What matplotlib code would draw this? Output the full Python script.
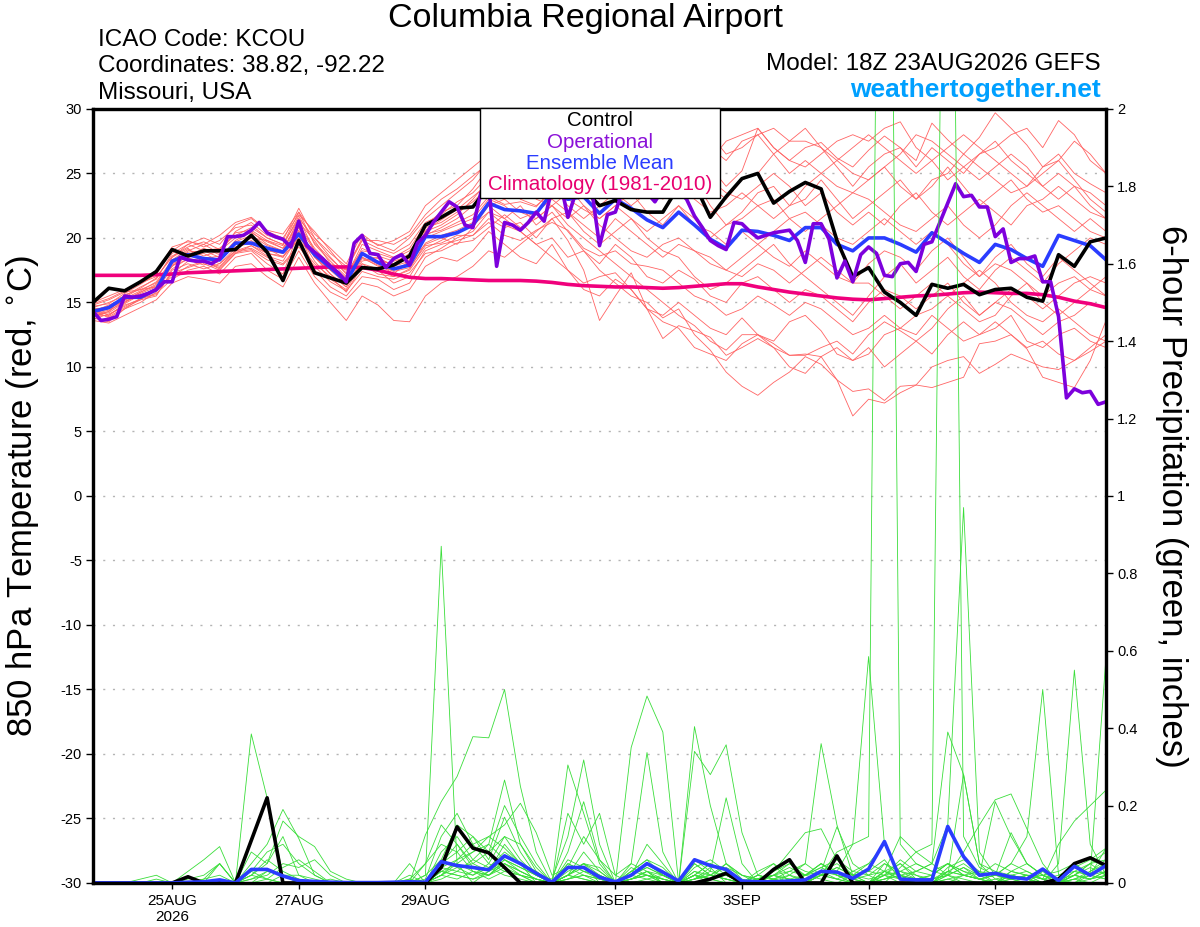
import matplotlib
matplotlib.use("Agg")
import matplotlib.pyplot as plt
from matplotlib.patches import Rectangle
import pandas as pd

# time axes: 6-hourly ensemble, 3-hourly operational run
times = pd.date_range("2026-08-23 18:00", periods=65, freq="6h")
times_op = pd.date_range("2026-08-23 18:00", periods=129, freq="3h")

tick_dates = pd.to_datetime(["2026-08-25", "2026-08-27", "2026-08-29", "2026-09-01",
                             "2026-09-03", "2026-09-05", "2026-09-07"])
tick_labels = ["25AUG\n2026", "27AUG", "29AUG", "1SEP", "3SEP", "5SEP", "7SEP"]

# 850 hPa temperature, deg C
control_t = [15.0,
    16.1, 15.9, 16.6, 17.4,  19.1, 18.6, 19.0, 19.0,  19.1, 20.2, 18.9, 16.7,  19.8, 17.3, 16.9, 16.5,
    17.7, 17.6, 17.9, 18.6,  21.0, 21.6, 22.3, 22.4,  24.0, 24.5, 24.0, 23.8,  24.5, 23.5, 23.8, 22.5,
    22.9, 22.2, 22.0, 22.0,  24.0, 24.2, 21.6, 23.2,  24.6, 25.0, 22.7, 23.6,  24.3, 23.8, 19.8, 17.0,
    17.7, 15.8, 15.0, 14.0,  16.4, 16.1, 16.4, 15.6,  16.0, 16.1, 15.4, 15.1,  18.7, 17.8, 19.7, 20.0]

mean_t = [14.3,
    14.6, 15.4, 15.4, 16.0,  18.2, 18.7, 18.4, 18.3,  19.6, 19.6, 19.2, 18.9,  20.3, 18.7, 17.7, 16.6,
    18.8, 18.1, 17.6, 17.9,  20.1, 20.1, 20.4, 21.0,  22.7, 22.2, 22.1, 21.9,  23.5, 23.0, 23.2, 21.9,
    23.0, 22.3, 21.4, 20.8,  22.0, 21.0, 19.9, 19.2,  20.6, 20.5, 20.2, 19.8,  20.8, 20.8, 19.5, 19.0,
    20.0, 20.0, 19.5, 18.9,  20.4, 19.6, 18.8, 18.1,  19.5, 19.1, 18.4, 17.8,  20.2, 19.8, 19.4, 18.3]

climatology = [17.1,
    17.1, 17.1, 17.1, 17.15,  17.2, 17.3, 17.35, 17.4,  17.45, 17.5, 17.55, 17.6,  17.65, 17.7, 17.75, 17.75,
    17.7, 17.5, 17.2, 16.95,  16.85, 16.85, 16.8, 16.75,  16.7, 16.7, 16.7, 16.65,  16.55, 16.4, 16.3, 16.25,
    16.2, 16.2, 16.15, 16.1,  16.15, 16.25, 16.35, 16.45,  16.45, 16.2, 16.0, 15.8,  15.65, 15.5, 15.35, 15.25,
    15.2, 15.3, 15.4, 15.5,  15.55, 15.65, 15.75, 15.8,  15.75, 15.7, 15.7, 15.6,  15.4, 15.1, 14.9, 14.6]

operational_t = [
    14.3, 13.6, 13.7, 13.9, 15.5, 15.4, 15.5, 15.7, 16.0, 16.6, 16.6, 18.5, 18.3, 18.2, 18.2, 18.0,
    18.4, 20.1, 20.1, 20.2, 20.6, 21.2, 20.4, 20.1, 19.9, 19.3, 21.3, 19.4, 18.9, 18.4, 17.8, 17.3,
    16.6, 19.6, 20.2, 18.8, 18.7, 17.7, 18.4, 18.7, 17.9, 19.6, 20.2, 21.2, 22.0, 22.8, 22.4, 21.0,
    20.8, 23.5, 24.0, 17.8, 21.2, 21.0, 20.6, 21.2, 22.0, 21.3, 23.8, 24.5, 21.6, 23.5, 24.2, 23.8,
    19.4, 21.8, 22.0, 23.8, 24.5, 24.0, 23.5, 22.8, 23.8, 24.0, 23.6, 23.0, 21.7, 20.8, 19.8, 19.4,
    19.1, 21.2, 21.1, 20.5, 20.0, 20.2, 20.4, 20.5, 20.6, 19.8, 18.1, 21.1, 21.1, 19.9, 16.9, 18.2,
    16.6, 18.7, 19.3, 18.8, 17.1, 17.0, 18.0, 18.1, 17.4, 19.5, 19.7, 21.2, 22.7, 24.2, 23.2, 23.3,
    22.4, 22.4, 20.1, 20.7, 18.1, 18.4, 18.4, 18.6, 16.6, 16.6, 13.9, 7.6, 8.3, 8.0, 8.1, 7.1,
    7.3]

members_t = [
    [14.0, 14.2, 15.0, 15.8, 16.3, 17.8, 18.9, 19.0, 18.5, 19.8, 20.5, 19.5, 19.0, 21.5, 19.0, 17.5, 16.8,
     18.5, 18.0, 17.2, 18.3, 20.5, 21.0, 21.8, 23.0, 24.5, 25.2, 24.0, 23.5, 24.8, 25.5, 24.2, 23.0,
     24.5, 25.8, 26.5, 25.0, 26.0, 27.2, 25.5, 24.0, 25.2, 28.5, 27.0, 26.0, 27.0, 27.4, 26.2, 25.5,
     26.8, 27.9, 27.0, 26.0, 28.9, 27.6, 26.5, 27.8, 29.7, 28.5, 27.2, 25.5, 26.5, 25.0, 24.2, 23.5],
    [14.5, 14.0, 14.8, 15.2, 15.5, 17.5, 18.0, 17.6, 18.0, 19.0, 19.2, 18.5, 18.0, 19.5, 18.0, 17.0, 15.8,
     17.8, 17.5, 16.5, 17.0, 19.0, 19.5, 19.8, 20.2, 21.5, 20.8, 21.2, 20.0, 21.5, 19.8, 17.5, 13.6,
     15.5, 17.3, 14.5, 12.2, 13.2, 12.8, 12.3, 10.9, 11.5, 12.2, 11.5, 10.9, 11.0, 10.8, 9.0, 6.2,
     7.5, 7.2, 8.0, 8.6, 8.4, 8.8, 9.2, 11.8, 12.0, 12.5, 11.4, 9.2, 8.8, 8.4, 10.5, 13.6],
    [13.8, 13.5, 14.5, 15.0, 15.8, 18.5, 19.2, 18.0, 17.5, 18.8, 19.0, 18.0, 17.2, 20.5, 17.5, 16.2, 15.5,
     17.0, 16.8, 16.0, 16.5, 18.5, 19.2, 20.0, 20.5, 22.0, 21.0, 20.5, 19.5, 20.0, 18.5, 19.0, 17.5,
     16.5, 15.5, 15.0, 13.8, 14.5, 12.5, 11.3, 9.6, 8.5, 7.8, 8.8, 9.6, 10.8, 10.2, 9.0, 8.1,
     8.3, 7.4, 8.5, 8.6, 10.0, 10.5, 10.8, 9.5, 10.2, 11.0, 10.5, 10.0, 9.8, 10.5, 11.2, 12.0],
    [14.6, 15.0, 15.5, 16.2, 16.8, 18.8, 19.5, 19.0, 19.2, 20.2, 20.8, 20.0, 19.5, 22.0, 19.5, 18.2, 17.0,
     19.5, 19.0, 18.5, 19.2, 21.0, 22.0, 22.5, 23.8, 25.5, 26.0, 25.0, 24.5, 26.5, 27.0, 25.5, 24.0,
     25.0, 26.5, 27.5, 26.0, 27.0, 25.5, 24.0, 23.0, 24.5, 25.0, 26.5, 27.5, 28.5, 27.0, 25.5, 24.0,
     25.5, 26.5, 27.0, 25.5, 27.0, 26.0, 25.0, 26.5, 27.5, 26.0, 25.0, 24.0, 23.0, 24.0, 22.5, 21.5],
    [14.2, 14.5, 15.2, 15.5, 15.9, 17.2, 18.2, 18.5, 18.0, 19.2, 19.8, 19.0, 18.8, 20.8, 18.5, 17.2, 16.2,
     18.2, 18.5, 17.8, 18.2, 19.5, 20.0, 19.5, 20.8, 22.5, 21.5, 22.5, 21.0, 22.0, 20.5, 19.0, 18.0,
     19.5, 18.5, 17.0, 16.5, 17.5, 16.8, 15.5, 15.0, 16.5, 17.0, 16.0, 15.0, 16.0, 15.5, 14.5, 13.5,
     15.0, 16.0, 15.5, 14.5, 15.5, 16.5, 15.0, 14.0, 15.0, 14.5, 13.5, 12.5, 13.5, 14.0, 15.0, 14.5],
    [13.9, 14.3, 15.6, 16.0, 16.5, 18.0, 19.0, 19.5, 18.8, 20.5, 21.2, 20.2, 19.8, 22.3, 20.0, 18.5, 17.2,
     18.8, 18.2, 18.0, 18.8, 20.2, 20.8, 21.5, 22.5, 23.5, 24.5, 23.0, 22.5, 23.5, 24.0, 22.5, 21.5,
     22.5, 23.5, 22.0, 21.0, 22.5, 21.5, 20.0, 21.0, 22.0, 23.5, 24.0, 22.5, 23.0, 24.5, 23.0, 21.5,
     22.5, 23.5, 24.5, 23.0, 24.0, 25.5, 24.0, 22.5, 23.5, 24.5, 23.0, 22.0, 22.5, 21.5, 20.5, 20.0],
    [14.4, 13.8, 14.5, 15.3, 15.7, 16.8, 17.5, 17.8, 17.2, 18.5, 18.8, 17.5, 16.8, 19.0, 17.0, 15.8, 15.2,
     16.5, 16.2, 15.5, 16.0, 17.8, 18.5, 18.2, 19.0, 20.5, 19.5, 18.5, 18.0, 19.5, 17.5, 16.0, 15.5,
     16.8, 16.0, 14.5, 14.0, 15.0, 14.0, 13.0, 12.5, 13.8, 12.5, 12.0, 13.5, 14.0, 12.8, 11.0, 10.5,
     11.5, 10.0, 11.0, 12.0, 11.0, 12.5, 13.5, 12.5, 13.0, 14.0, 12.0, 11.5, 12.5, 13.0, 12.0, 11.5],
    [15.0, 15.5, 16.0, 16.5, 17.0, 18.5, 19.5, 20.0, 19.5, 21.0, 21.5, 20.5, 20.0, 21.8, 20.5, 19.0, 17.5,
     20.0, 19.5, 19.0, 20.0, 21.5, 22.5, 23.5, 24.5, 26.0, 25.5, 26.5, 25.0, 25.5, 26.0, 24.5, 25.5,
     26.5, 27.0, 28.0, 27.0, 26.5, 25.0, 26.0, 27.5, 28.0, 28.5, 27.0, 26.0, 25.5, 26.5, 27.5, 28.0,
     27.5, 28.5, 29.0, 27.0, 26.0, 24.5, 25.5, 26.5, 27.0, 28.0, 28.5, 27.0, 29.1, 28.0, 26.0, 25.0],
    [14.1, 14.4, 15.0, 15.7, 16.2, 18.0, 18.5, 18.8, 18.2, 19.5, 20.0, 19.2, 18.5, 20.0, 18.8, 17.8, 16.5,
     18.5, 17.8, 17.5, 18.0, 20.0, 20.5, 21.0, 21.5, 23.0, 22.5, 21.5, 22.0, 23.0, 22.0, 21.0, 20.0,
     21.5, 20.5, 19.5, 18.5, 19.5, 19.0, 18.0, 17.5, 18.5, 19.5, 18.5, 17.8, 19.0, 18.0, 17.0, 16.5,
     18.0, 19.0, 18.5, 17.5, 19.0, 20.0, 18.5, 17.0, 18.0, 17.5, 16.5, 15.5, 16.5, 17.0, 16.0, 15.5],
    [14.3, 14.8, 15.3, 15.9, 16.6, 18.3, 19.1, 18.6, 19.0, 20.0, 20.4, 19.7, 19.2, 21.0, 19.2, 17.9, 16.9,
     19.2, 18.6, 18.2, 18.6, 20.8, 21.2, 22.0, 22.8, 24.0, 23.5, 24.5, 23.0, 22.5, 21.0, 20.0, 19.0,
     18.0, 17.0, 16.0, 15.0, 14.0, 13.2, 12.0, 11.3, 12.5, 12.5, 11.8, 10.9, 10.9, 11.5, 12.0, 11.0,
     12.5, 13.5, 12.8, 12.0, 13.0, 14.5, 15.5, 14.0, 15.0, 16.0, 15.5, 14.5, 15.5, 16.5, 17.0, 16.5],
    [14.8, 15.2, 15.8, 16.0, 16.2, 17.8, 18.6, 19.2, 18.7, 19.5, 20.0, 19.8, 19.2, 21.2, 19.8, 18.0, 17.5,
     19.8, 19.2, 18.8, 19.5, 21.2, 21.8, 22.8, 23.5, 24.8, 24.2, 23.5, 24.0, 25.0, 24.0, 25.5, 26.0,
     25.5, 24.5, 23.5, 24.5, 25.5, 26.0, 24.5, 23.5, 23.0, 24.0, 25.0, 24.0, 22.5, 23.5, 22.0, 21.0,
     22.0, 21.0, 22.5, 23.5, 22.0, 21.0, 22.0, 23.0, 22.0, 21.0, 22.5, 23.0, 24.0, 23.0, 22.0, 21.5],
    [13.6, 13.4, 14.0, 14.6, 15.2, 16.5, 17.0, 16.8, 16.5, 17.8, 18.0, 17.0, 16.2, 18.5, 16.5, 15.0, 13.6,
     15.5, 14.8, 13.6, 13.5, 15.5, 16.5, 17.0, 17.8, 19.0, 18.5, 19.5, 20.5, 21.5, 22.0, 20.5, 19.5,
     20.5, 21.5, 20.0, 19.0, 18.5, 17.0, 16.0, 16.5, 17.5, 18.5, 19.5, 18.0, 17.0, 16.0, 15.0, 14.0,
     15.5, 17.0, 18.0, 16.5, 17.5, 18.5, 17.0, 16.0, 17.5, 18.5, 17.5, 16.5, 18.0, 19.0, 20.0, 19.5],
    [14.0, 14.0, 14.9, 15.6, 16.0, 17.6, 18.4, 18.2, 17.8, 19.0, 19.4, 18.6, 18.2, 20.2, 18.2, 16.8, 16.0,
     18.0, 17.6, 17.0, 17.6, 19.6, 20.2, 20.6, 21.2, 22.5, 23.0, 22.0, 21.5, 22.5, 23.5, 24.5, 23.5,
     24.0, 25.0, 24.0, 23.0, 24.0, 23.0, 22.0, 22.5, 23.5, 22.5, 21.5, 22.5, 24.0, 25.0, 26.0, 25.0,
     24.5, 25.5, 26.5, 28.0, 27.5, 26.5, 25.5, 24.5, 25.5, 26.5, 25.5, 24.0, 25.0, 24.0, 23.5, 22.5],
    [14.5, 14.6, 15.1, 15.5, 16.0, 17.0, 17.8, 18.2, 17.6, 18.8, 19.4, 18.8, 18.5, 20.6, 18.5, 17.5, 16.4,
     18.0, 17.2, 17.0, 17.5, 19.2, 19.8, 20.5, 21.0, 22.0, 21.5, 20.5, 19.5, 18.5, 17.5, 16.5, 17.0,
     17.3, 16.0, 14.5, 13.5, 13.0, 11.5, 11.0, 10.5, 11.8, 12.5, 11.5, 10.0, 9.5, 10.8, 11.5, 10.5,
     11.0, 12.5, 13.0, 14.0, 14.5, 15.5, 14.5, 13.5, 14.0, 15.5, 16.5, 15.0, 14.0, 15.0, 16.0, 17.0],
    [14.7, 14.9, 15.7, 16.4, 17.2, 19.0, 19.8, 19.3, 19.8, 20.8, 21.0, 20.0, 19.5, 21.5, 20.0, 18.8, 17.8,
     19.8, 19.8, 19.5, 20.2, 21.8, 23.0, 23.8, 24.8, 25.8, 24.8, 25.5, 26.5, 26.0, 24.5, 23.5, 24.5,
     25.5, 26.0, 25.0, 24.0, 25.0, 26.5, 27.0, 26.0, 27.5, 28.0, 26.5, 25.0, 26.0, 25.0, 24.0, 23.5,
     24.5, 25.5, 24.0, 23.0, 24.5, 25.0, 26.5, 25.5, 24.5, 23.5, 24.0, 25.5, 26.0, 24.5, 23.0, 22.0],
    [14.2, 13.9, 14.6, 15.2, 16.1, 17.9, 18.3, 17.9, 18.4, 19.3, 19.6, 18.8, 18.6, 19.8, 18.6, 17.2, 16.2,
     18.4, 17.9, 17.4, 17.7, 19.4, 19.6, 20.2, 20.2, 21.2, 20.2, 19.8, 20.6, 21.2, 20.6, 19.2, 18.6,
     19.0, 18.0, 17.8, 17.5, 16.5, 15.5, 15.0, 14.0, 14.5, 15.5, 14.8, 14.0, 15.0, 14.5, 13.5, 12.5,
     13.0, 14.0, 13.0, 12.5, 14.0, 13.0, 12.0, 12.5, 13.5, 12.5, 11.5, 12.0, 11.0, 10.5, 11.5, 12.5],
    [14.4, 14.7, 15.4, 16.1, 16.9, 18.6, 19.3, 19.7, 19.1, 20.4, 20.6, 19.8, 19.4, 21.7, 19.6, 18.4, 17.3,
     19.0, 18.8, 18.4, 19.0, 20.6, 21.4, 22.2, 23.2, 24.2, 23.0, 23.8, 24.8, 24.0, 22.5, 21.5, 22.5,
     23.5, 22.5, 23.5, 24.5, 23.5, 24.5, 22.5, 21.0, 21.5, 22.5, 23.0, 21.5, 20.5, 21.5, 22.5, 23.5,
     23.0, 22.0, 21.0, 20.5, 21.5, 22.5, 21.0, 20.0, 21.0, 22.5, 23.5, 22.5, 21.5, 20.5, 21.5, 20.5],
    [13.7, 14.1, 14.7, 15.3, 15.6, 17.3, 17.7, 18.1, 17.7, 18.9, 19.1, 18.3, 17.9, 19.3, 17.8, 16.6, 15.9,
     17.4, 17.0, 16.8, 17.3, 18.8, 19.0, 19.6, 19.8, 20.8, 21.8, 20.8, 21.5, 22.5, 21.5, 22.5, 21.0,
     20.0, 19.0, 18.5, 19.5, 20.0, 19.0, 18.5, 17.5, 17.0, 18.0, 17.5, 16.5, 17.5, 18.5, 17.5, 16.5,
     16.5, 15.5, 14.5, 15.5, 16.5, 15.5, 16.5, 17.5, 16.5, 15.0, 14.0, 13.5, 14.5, 13.5, 12.5, 12.0],
    [14.9, 15.3, 15.9, 16.6, 17.4, 19.3, 19.7, 19.5, 20.2, 21.2, 21.6, 20.6, 20.3, 22.0, 20.3, 19.2, 18.0,
     20.3, 19.4, 19.8, 20.5, 22.5, 23.5, 24.5, 25.5, 26.5, 27.0, 26.0, 25.5, 26.5, 25.5, 26.5, 27.5,
     27.0, 27.5, 26.0, 25.5, 26.5, 27.5, 28.0, 26.5, 27.0, 28.0, 28.5, 27.5, 27.5, 27.0, 26.0, 27.0,
     28.0, 27.0, 26.0, 25.0, 26.0, 27.0, 28.0, 27.0, 26.0, 25.0, 24.0, 25.0, 26.0, 27.5, 26.5, 25.0],
    [14.0, 14.3, 15.2, 15.8, 16.4, 18.2, 18.8, 18.4, 18.6, 19.7, 20.2, 19.4, 19.0, 20.9, 19.0, 17.6, 16.7,
     18.7, 18.4, 17.9, 18.4, 20.3, 20.6, 21.2, 21.8, 23.2, 22.6, 22.8, 22.4, 23.8, 23.0, 22.2, 21.5,
     22.5, 21.5, 20.5, 21.5, 22.5, 21.0, 20.5, 19.5, 20.5, 19.5, 20.5, 21.5, 22.0, 21.0, 20.0, 19.5,
     20.5, 21.5, 20.5, 19.5, 20.5, 19.5, 18.0, 17.0, 18.5, 19.5, 18.0, 17.0, 18.5, 17.5, 16.5, 15.5],
]

# 6-hour precipitation, inches
control_p = [0,
    0, 0, 0, 0,  0, 0.016, 0, 0,  0, 0.11, 0.22, 0,  0, 0, 0, 0,
    0, 0, 0, 0,  0, 0.04, 0.145, 0.09,  0.078, 0.04, 0, 0,  0, 0, 0, 0,
    0, 0, 0, 0,  0, 0, 0.01, 0.025,  0, 0, 0.035, 0.06,  0, 0, 0.07, 0,
    0, 0, 0, 0,  0, 0, 0, 0,  0, 0, 0, 0,  0.01, 0.05, 0.065, 0.045]

mean_p = [0,
    0, 0, 0, 0,  0, 0.002, 0.003, 0.008,  0, 0.035, 0.035, 0.018,  0.006, 0.004, 0.002, 0.001,
    0.001, 0.001, 0.002, 0.003,  0.002, 0.055, 0.045, 0.04,  0.034, 0.07, 0.05, 0.025,  0.002, 0.04, 0.04, 0.015,
    0.003, 0.02, 0.05, 0.028,  0.005, 0.06, 0.045, 0.035,  0.005, 0.003, 0.003, 0.005,  0.008, 0.03, 0.028, 0.012,
    0.036, 0.107, 0.01, 0.008,  0.008, 0.146, 0.068, 0.02,  0.025, 0.015, 0.01, 0.036,  0.006, 0.043, 0.02, 0.045]

members_p = [
    [0, 0, 0, 0, 0, 0, 0, 0, 0, 0, 0.385, 0.22, 0.02, 0, 0, 0, 0,
     0, 0, 0, 0, 0.02, 0.87, 0.05, 0.0, 0.03, 0.10, 0.05, 0, 0, 0.02, 0.05, 0,
     0, 0.01, 0.03, 0, 0, 0.02, 0, 0, 0, 0, 0, 0, 0, 0.03, 0.01, 0,
     0, 0.02, 0, 0, 0, 0.01, 0, 0, 0, 0, 0.02, 0, 0, 0.01, 0.03, 0.05],
    [0, 0, 0, 0, 0, 0, 0, 0, 0.05, 0, 0.05, 0.10, 0.19, 0.115, 0.02, 0, 0,
     0, 0, 0, 0, 0.124, 0.21, 0.275, 0.378, 0.375, 0.50, 0.25, 0.08, 0, 0.05, 0.03, 0.01,
     0, 0.02, 0.05, 0.02, 0, 0.01, 0.04, 0, 0, 0, 0.01, 0, 0, 0, 0, 0.02,
     0.05, 0.10, 0.02, 0, 0, 0.03, 0.05, 0.02, 0, 0.01, 0, 0, 0, 0, 0.02, 0.01],
    [0, 0, 0, 0, 0, 0, 0.03, 0.06, 0.094, 0, 0.02, 0.05, 0.16, 0.12, 0.094, 0.03, 0.01,
     0, 0, 0, 0, 0, 0.08, 0.12, 0.06, 0.10, 0.266, 0.10, 0.03, 0, 0.305, 0.18, 0.05,
     0, 0.01, 0.02, 0, 0, 0.05, 0.02, 0.01, 0, 0.02, 0.05, 0, 0, 0.03, 0.145, 0.05,
     0.02, 0, 0.04, 0.08, 0.05, 0.02, 0, 0, 0.01, 0, 0, 0, 0, 0.02, 0.05, 0.08],
    [0, 0, 0, 0.01, 0.02, 0, 0, 0.01, 0.05, 0, 0.08, 0.05, 0.12, 0.02, 0, 0, 0,
     0, 0, 0, 0.01, 0.05, 0.15, 0.10, 0.05, 0.08, 0.20, 0.12, 0.05, 0, 0.02, 0.08, 0.03,
     0, 0.02, 0.10, 0.05, 0, 0.03, 0.01, 0.02, 0, 0.01, 0, 0, 0.02, 0.05, 0.02, 0,
     0, 0.03, 0.01, 0, 0, 0, 0.02, 0.03, 0, 0.02, 0.01, 0, 0, 0.01, 0, 0.02],
    [0, 0, 0, 0, 0, 0, 0, 0, 0, 0, 0.02, 0.06, 0.03, 0.01, 0, 0, 0,
     0, 0, 0, 0, 0, 0.05, 0.08, 0.12, 0.06, 0.17, 0.08, 0.02, 0, 0.06, 0.04, 0.02,
     0, 0.05, 0.337, 0.08, 0, 0.02, 0.05, 0.02, 0, 0.01, 0.02, 0.04, 0.02, 0.01, 0, 0,
     0, 0.02, 0.05, 0.01, 0.02, 0.05, 0.03, 0.01, 0, 0.03, 0.05, 0.02, 0, 0, 0.03, 0.06],
    [0, 0, 0, 0, 0, 0, 0, 0, 0, 0, 0, 0.03, 0.02, 0, 0, 0, 0,
     0, 0, 0, 0.02, 0, 0.04, 0.06, 0.10, 0.12, 0.15, 0.206, 0.13, 0.02, 0.04, 0.02, 0,
     0, 0.03, 0.06, 0.04, 0, 0.06, 0.03, 0.22, 0.05, 0, 0, 0.02, 0, 0.02, 0.03, 0.01,
     0, 0.02, 0.03, 0.05, 0.03, 0.02, 0.08, 0.15, 0.215, 0.23, 0.14, 0.05, 0, 0.02, 0.01, 0.03],
    [0, 0, 0, 0, 0, 0, 0, 0.01, 0.02, 0, 0.03, 0.01, 0, 0, 0, 0.01, 0,
     0, 0, 0, 0, 0, 0.06, 0.04, 0.02, 0.04, 0.08, 0.05, 0.02, 0.01, 0.12, 0.318, 0.10,
     0, 0.04, 0.02, 0.01, 0, 0.02, 0.01, 0, 0, 0.02, 0.01, 0.03, 0.05, 0.02, 0.01, 0,
     0, 0.01, 0.03, 0.02, 0, 0.02, 0.04, 0.01, 0.02, 0.05, 0.12, 0.50, 0.02, 0.03, 0.05, 0.02],
    [0, 0, 0, 0, 0, 0, 0, 0, 0, 0, 0.01, 0.02, 0.05, 0.04, 0.06, 0.02, 0,
     0, 0, 0, 0, 0.01, 0.12, 0.18, 0.10, 0.05, 0.12, 0.06, 0.02, 0, 0.08, 0.21, 0.06,
     0, 0.01, 0.03, 0, 0, 0.01, 0.02, 0.05, 0.02, 0, 0, 0.01, 0.02, 0.04, 0.02, 0,
     0, 0.05, 0.02, 0, 0.01, 0.02, 0.01, 0, 0, 0.03, 0.02, 0, 0.05, 0.55, 0.10, 0.02],
    [0, 0, 0, 0, 0, 0, 0, 0, 0, 0, 0, 0, 0, 0, 0, 0, 0,
     0, 0, 0, 0.01, 0, 0.02, 0.05, 0.03, 0.02, 0.06, 0.03, 0.01, 0, 0.18, 0.10, 0.18,
     0.02, 0, 0.01, 0.02, 0, 0.01, 0.03, 0.02, 0, 0, 0.01, 0.02, 0.01, 0.03, 0.05, 0.02,
     0.03, 0.06, 0.01, 0, 0, 0.01, 0.02, 0.01, 0.02, 0.01, 0, 0.03, 0, 0.05, 0.02, 0.585],
    [0, 0, 0, 0, 0, 0, 0, 0, 0, 0, 0, 0, 0, 0, 0, 0, 0,
     0, 0, 0, 0, 0, 0.03, 0.02, 0.01, 0.03, 0.05, 0.02, 0, 0, 0.02, 0.01, 0,
     0, 0.35, 0.483, 0.39, 0, 0.02, 0.01, 0.05, 0.02, 0.01, 0, 0, 0, 0.02, 0.04, 0.02,
     0, 0.01, 0.02, 0.03, 0.02, 0.05, 0.03, 0.02, 0.05, 0.03, 0.02, 0.01, 0.10, 0.16, 0.20, 0.24],
    [0, 0, 0, 0, 0, 0, 0, 0, 0, 0, 0.02, 0.01, 0.04, 0.06, 0.03, 0, 0,
     0, 0, 0, 0, 0, 0.05, 0.10, 0.04, 0.02, 0.05, 0.03, 0.01, 0, 0.03, 0.05, 0.02,
     0, 0.03, 0.02, 0.01, 0, 0.404, 0.20, 0.05, 0.01, 0, 0.02, 0.01, 0, 0.02, 0.03, 0.01,
     0.02, 0.03, 0.01, 0, 0, 0.02, 0.28, 0.05, 0.01, 0.02, 0.03, 0.01, 0, 0.01, 0.02, 0.03],
    [0, 0, 0, 0, 0, 0, 0, 0, 0, 0, 0, 0, 0.02, 0.01, 0, 0, 0,
     0, 0, 0, 0, 0, 0.02, 0.06, 0.08, 0.12, 0.09, 0.05, 0.03, 0, 0.02, 0.04, 0.01,
     0, 0.02, 0.05, 0.03, 0, 0.34, 0.28, 0.357, 0.13, 0.02, 0.01, 0, 0.02, 0.05, 0.02, 0.01,
     0, 0.01, 0.02, 0, 0.01, 0.03, 0.02, 0.01, 0, 0.02, 0.01, 0, 0, 0.02, 0.01, 0.02],
    [0, 0, 0, 0, 0, 0, 0, 0, 0, 0, 0, 0, 0, 0, 0, 0, 0,
     0, 0, 0, 0, 0, 0.04, 0.03, 0.02, 0.05, 0.03, 0.02, 0.01, 0, 0.05, 0.03, 0.02,
     0, 0.01, 0.02, 0.01, 0, 0.05, 0.02, 0.01, 0, 0.03, 0.05, 0.02, 0.05, 0.36, 0.15, 0.02,
     0, 0.03, 0.02, 0.01, 0.02, 0.05, 0.02, 0.01, 0, 0.02, 0.01, 0, 0.01, 0.02, 0.05, 0.06],
    [0, 0, 0, 0, 0, 0, 0, 0, 0, 0, 0, 0.01, 0, 0, 0, 0, 0,
     0, 0, 0, 0, 0, 0.01, 0.03, 0.06, 0.04, 0.02, 0.01, 0, 0, 0.01, 0.02, 0.01,
     0, 0.02, 0.04, 0.02, 0, 0.01, 0.02, 0.04, 0.02, 0.01, 0.03, 0.08, 0.13, 0.14, 0.06, 0.02,
     0.01, 0.02, 0.01, 0.03, 0.05, 0.15, 0.97, 0.08, 0.02, 0.01, 0.02, 0.01, 0, 0.02, 0.01, 0.03],
    [0, 0, 0, 0, 0, 0, 0, 0, 0, 0, 0, 0, 0, 0, 0, 0, 0,
     0, 0, 0, 0, 0, 0.02, 0.04, 0.05, 0.03, 0.06, 0.04, 0.02, 0, 0.01, 0.02, 0.01,
     0, 0.01, 0.02, 0, 0, 0.02, 0.01, 0.03, 0, 0.01, 0.02, 0.03, 0.02, 0.05, 0.03, 0.10,
     0.585, 0.10, 0.02, 0.01, 0, 0.03, 0.02, 0.01, 0.02, 0.13, 0.05, 0.02, 0, 0.02, 0.04, 0.02],
    [0, 0, 0, 0, 0, 0, 0, 0, 0, 0, 0, 0, 0, 0, 0, 0, 0,
     0, 0, 0, 0, 0, 0.03, 0.02, 0.01, 0.02, 0.04, 0.02, 0.01, 0, 0.02, 0.05, 0.03,
     0, 0.02, 0.01, 0, 0, 0.01, 0.02, 0.01, 0, 0, 0.02, 0.05, 0.03, 0.02, 0.08, 0.10,
     0.12, 4.5, 0.10, 0.05, 0.03, 0.05, 0.02, 0.01, 0, 0.01, 0.02, 0.02, 0.01, 0, 0.01, 0.02],
    [0, 0, 0, 0, 0, 0, 0, 0, 0, 0, 0, 0, 0, 0, 0, 0, 0,
     0, 0, 0, 0, 0, 0.02, 0.01, 0.03, 0.01, 0.03, 0.02, 0, 0, 0.01, 0.03, 0.02,
     0, 0.01, 0.03, 0.02, 0, 0.02, 0.01, 0, 0, 0.01, 0.02, 0.01, 0, 0.02, 0.01, 0.03,
     0.05, 0.03, 0.12, 0.08, 0.10, 3.8, 0.12, 0.04, 0.02, 0.05, 0.03, 0.01, 0, 0.03, 0.02, 0.01],
    [0, 0, 0, 0, 0, 0, 0, 0, 0, 0, 0, 0, 0, 0, 0, 0, 0,
     0, 0, 0, 0, 0.05, 0.10, 0.08, 0.03, 0.02, 0.05, 0.03, 0.01, 0, 0.02, 0.01, 0,
     0, 0.03, 0.06, 0.02, 0, 0.02, 0.05, 0.03, 0, 0.01, 0.02, 0, 0.01, 0.02, 0.04, 0.02,
     0.03, 0.02, 0.06, 0.03, 0.05, 0.39, 0.28, 0.05, 0.03, 0.02, 0.01, 0.02, 0.03, 0.05, 0.02, 0.09],
    [0, 0, 0, 0, 0.01, 0, 0.01, 0.02, 0.05, 0, 0.03, 0.08, 0.10, 0.05, 0.02, 0, 0,
     0, 0, 0, 0, 0.02, 0.06, 0.15, 0.12, 0.08, 0.12, 0.10, 0.04, 0, 0.04, 0.12, 0.06,
     0.02, 0.05, 0.03, 0.01, 0, 0.03, 0.02, 0.01, 0, 0.02, 0.01, 0, 0.02, 0.03, 0.02, 0.01,
     0, 0.03, 0.05, 0.02, 0.01, 0.02, 0.04, 0.02, 0.21, 0.12, 0.05, 0.02, 0, 0.03, 0.02, 0.05],
    [0, 0, 0, 0, 0, 0, 0, 0, 0, 0, 0.01, 0.03, 0.02, 0.02, 0.01, 0, 0,
     0, 0, 0, 0.05, 0, 0.03, 0.05, 0.08, 0.10, 0.06, 0.04, 0.02, 0, 0.02, 0.05, 0.04,
     0, 0.02, 0.04, 0.02, 0, 0.04, 0.06, 0.03, 0, 0.01, 0.03, 0.05, 0.02, 0.04, 0.06, 0.03,
     0.02, 0.05, 0.03, 0.01, 0, 0.04, 0.06, 0.03, 0.02, 0.01, 0.02, 0.01, 0.02, 0.04, 0.06, 0.09],
]

plt.rcParams['font.family'] = ['Liberation Sans', 'DejaVu Sans']
plt.rcParams['axes.unicode_minus'] = False

fig = plt.figure(figsize=(12, 9.27), dpi=100)
ax = fig.add_axes([0.0775, 0.0475, 0.8442, 0.8350])
ax2 = ax.twinx()

# dotted horizontal grid on the temperature scale
for y in range(-25, 30, 5):
    ax.axhline(y, color='#b4b4b4', lw=1.0, ls=(0, (1.5, 5.5)), zorder=0)

for m in members_t:
    ax.plot(times, m, color='#ff6464', lw=0.6, zorder=1)
ax.plot(times, climatology, color='#f0007c', lw=2.6, zorder=3)
ax.plot(times, mean_t, color='#2a3cff', lw=2.6, zorder=4)
ax.plot(times, control_t, color='black', lw=2.6, zorder=5)
ax.plot(times_op, operational_t, color='#7d00dc', lw=2.6, zorder=6)

for g in members_p:
    ax2.plot(times, g, color='#3ade3a', lw=0.6)
ax2.plot(times, control_p, color='black', lw=2.6)
ax2.plot(times, mean_p, color='#2a3cff', lw=2.6)

ax.set_xlim(times[0], times[-1])
ax.set_ylim(-30, 30)
ax2.set_ylim(0, 2)

ax.set_yticks(range(-30, 31, 5))
ax2.set_yticks([0, 0.2, 0.4, 0.6, 0.8, 1, 1.2, 1.4, 1.6, 1.8, 2])
ax2.set_yticklabels(['0', '0.2', '0.4', '0.6', '0.8', '1', '1.2', '1.4', '1.6', '1.8', '2'])
ax.set_xticks(tick_dates)
ax.set_xticklabels(tick_labels)

ax.tick_params(axis='y', direction='out', length=5, width=1, labelsize=10.5, pad=3)
ax2.tick_params(axis='y', direction='out', length=5, width=1, labelsize=10.5, pad=3)
ax.tick_params(axis='x', direction='out', length=4, width=1, labelsize=11, pad=4)
for a in (ax, ax2):
    for s in a.spines.values():
        s.set_linewidth(2.3)

ax.set_ylabel('850 hPa Temperature (red, $^{\\circ}$C)', fontsize=25, labelpad=14)
ax2.set_ylabel('6-hour Precipitation (green, inches)', fontsize=25, rotation=270, labelpad=36)

# header texts
fig.text(585 / 1200, 1 - 19 / 927, 'Columbia Regional Airport', ha='center', va='center', fontsize=24.5)
fig.text(98 / 1200, 1 - 40 / 927, 'ICAO Code: KCOU', ha='left', va='center', fontsize=17.5)
fig.text(98 / 1200, 1 - 66 / 927, 'Coordinates: 38.82, -92.22', ha='left', va='center', fontsize=17.5)
fig.text(98 / 1200, 1 - 93 / 927, 'Missouri, USA', ha='left', va='center', fontsize=17.5)
fig.text(1101 / 1200, 1 - 64 / 927, 'Model: 18Z 23AUG2026 GEFS', ha='right', va='center', fontsize=17.5)
fig.text(1101 / 1200, 1 - 90 / 927, 'weathertogether.net', ha='right', va='center',
         fontsize=19, fontweight='bold', color='#00a0ff')

# legend box
fig.add_artist(Rectangle((480 / 1200, 1 - 198 / 927), 240 / 1200, 90 / 927, transform=fig.transFigure,
                         facecolor='white', edgecolor='black', lw=1.0, zorder=5))
legend_items = [('Control', 'black'), ('Operational', '#8a10d8'),
                ('Ensemble Mean', '#2a3cff'), ('Climatology (1981-2010)', '#e8006f')]
for k, (label, col) in enumerate(legend_items):
    fig.text(600 / 1200, 1 - (121 + 21.3 * k) / 927, label, ha='center', va='center',
             fontsize=14.8, color=col, zorder=6)

fig.savefig('out.png', dpi=100)
